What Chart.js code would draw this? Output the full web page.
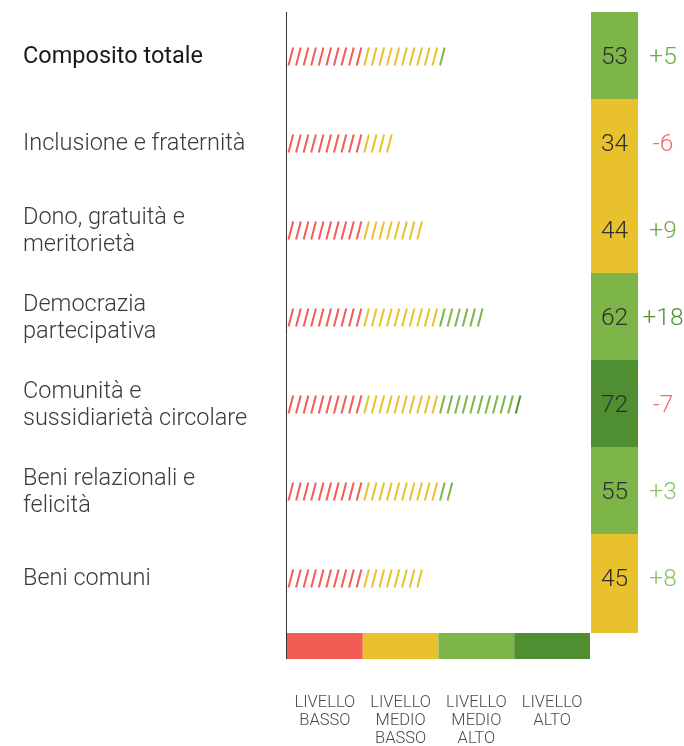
<!DOCTYPE html>
<html lang="it">
<head>
    <meta charset="UTF-8">
    <script src="https://cdn.jsdelivr.net/npm/chart.js"></script>
    <title>Indicatori</title>
    <style>
        body {
            margin: 0;
            padding: 0;
            background: #fff;
        }
        #wrap {
            width: 684px;
            height: 746px;
        }
    </style>
</head>
<body>
    <div id="wrap"><canvas id="myChart" width="684" height="746"></canvas></div>
    <script>
        // categories (multi-line labels as drawn)
        const categories = [
            ['Composito totale'],
            ['Inclusione e fraternità'],
            ['Dono, gratuità e', 'meritorietà'],
            ['Democrazia', 'partecipativa'],
            ['Comunità e', 'sussidiarietà circolare'],
            ['Beni relazionali e', 'felicità'],
            ['Beni comuni']
        ];
        // where the slash bars end, on the 0-100 scale
        const barValues = [52.5, 35, 45, 65, 77.5, 55, 45];
        const scores = [53, 34, 44, 62, 72, 55, 45];
        const scoreLevels = [2, 1, 1, 2, 3, 2, 1];
        const changes = ['+5', '-6', '+9', '+18', '-7', '+3', '+8'];
        const changeColors = ['#6aaa48', '#f26a63', '#6aaa48', '#4f9236', '#f26a63', '#8bc466', '#8bc466'];
        const levelNames = [
            ['LIVELLO', 'BASSO'],
            ['LIVELLO', 'MEDIO', 'BASSO'],
            ['LIVELLO', 'MEDIO', 'ALTO'],
            ['LIVELLO', 'ALTO']
        ];
        const levelBounds = [0, 25, 50, 75, 100];
        const levelColors = ['#f25c55', '#e9c12c', '#7db548', '#4f8f31'];

        function levelColor(v) {
            if (v < 25) return levelColors[0];
            if (v < 50) return levelColors[1];
            if (v < 75) return levelColors[2];
            return levelColors[3];
        }

        const FONT = 'Roboto, "Liberation Sans", sans-serif';

        // draws slashes, labels, score boxes and the level strip
        const decor = {
            id: 'decor',
            afterDatasetsDraw(chart) {
                const ctx = chart.ctx;
                const xs = chart.scales.x;
                const ys = chart.scales.y;
                const meta = chart.getDatasetMeta(0);
                const step = 2.5;
                const unit = xs.getPixelForValue(step) - xs.getPixelForValue(0);
                const stripTop = 633, stripBottom = 659;

                ctx.save();
                // slash bars
                ctx.lineWidth = 2;
                meta.data.forEach((bar, i) => {
                    const n = Math.round(barValues[i] / step);
                    const y = bar.y + 1;
                    for (let k = 0; k < n; k++) {
                        const x0 = xs.getPixelForValue(k * step) + 1.5;
                        ctx.strokeStyle = levelColor(k * step + 0.1);
                        ctx.beginPath();
                        ctx.moveTo(x0, y + 9);
                        ctx.lineTo(x0 + unit * 0.62, y - 9);
                        ctx.stroke();
                    }
                });

                // category labels
                ctx.textAlign = 'left';
                ctx.textBaseline = 'middle';
                categories.forEach((lines, i) => {
                    const yc = ys.getPixelForValue(i) + 2;
                    ctx.fillStyle = i === 0 ? '#1a1a1a' : '#3a3a3a';
                    ctx.font = (i === 0 ? '400 ' : '300 ') + '23.5px ' + FONT;
                    const lh = 27;
                    lines.forEach((t, j) => {
                        ctx.fillText(t, 23, yc + (j - (lines.length - 1) / 2) * lh);
                    });
                });

                // score boxes and changes
                const bx0 = 591, bx1 = 638;
                const half = (ys.getPixelForValue(1) - ys.getPixelForValue(0)) / 2;
                scores.forEach((s, i) => {
                    const yc = ys.getPixelForValue(i);
                    const top = yc - half;
                    const bottom = i === scores.length - 1 ? stripTop : yc + half;
                    ctx.fillStyle = levelColors[scoreLevels[i]];
                    ctx.fillRect(bx0, top, bx1 - bx0, bottom - top);
                    ctx.fillStyle = '#2e2e2e';
                    ctx.textAlign = 'center';
                    ctx.font = '300 24.5px ' + FONT;
                    ctx.fillText(String(s), (bx0 + bx1) / 2, yc + 2);
                    ctx.fillStyle = changeColors[i];
                    ctx.fillText(changes[i], 663, yc + 2);
                });

                // level strip
                for (let z = 0; z < 4; z++) {
                    const a = xs.getPixelForValue(levelBounds[z]);
                    const b = xs.getPixelForValue(levelBounds[z + 1]);
                    ctx.fillStyle = levelColors[z];
                    ctx.fillRect(a, stripTop, b - a, stripBottom - stripTop);
                    ctx.fillStyle = '#4a4a4a';
                    ctx.font = '300 16.5px ' + FONT;
                    ctx.textAlign = 'center';
                    levelNames[z].forEach((t, j) => {
                        ctx.fillText(t, (a + b) / 2, 703 + j * 18);
                    });
                }

                // vertical axis line
                const ax = xs.getPixelForValue(0) - 0.5;
                ctx.strokeStyle = '#333';
                ctx.lineWidth = 1;
                ctx.beginPath();
                ctx.moveTo(ax, 12);
                ctx.lineTo(ax, stripBottom);
                ctx.stroke();
                ctx.restore();
            }
        };

        const config = {
            type: 'bar',
            data: {
                labels: categories,
                datasets: [{
                    data: barValues,
                    backgroundColor: 'rgba(0,0,0,0)',
                    barThickness: 18
                }]
            },
            options: {
                indexAxis: 'y',
                responsive: false,
                animation: false,
                layout: {
                    padding: { left: 287, right: 94, top: 12, bottom: 125 }
                },
                plugins: {
                    legend: { display: false },
                    tooltip: { enabled: false }
                },
                scales: {
                    x: { min: 0, max: 100, display: false },
                    y: { display: false, offset: true }
                }
            },
            plugins: [decor]
        };

        const myChart = new Chart(document.getElementById('myChart').getContext('2d'), config);
    </script>
</body>
</html>
